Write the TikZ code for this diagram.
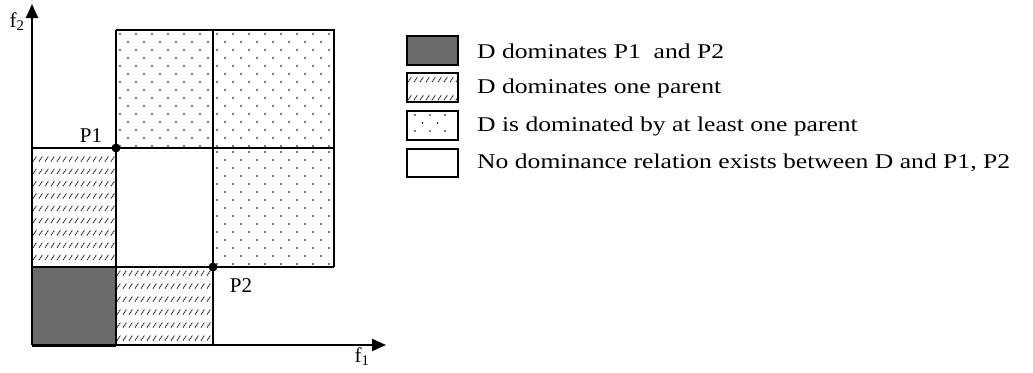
\documentclass[tikz,border=0pt]{standalone}
\usepackage{fontspec}
\setmainfont{Liberation Serif}
\newfontfamily\legendfont[FakeStretch=1.22]{Liberation Serif}
\usetikzlibrary{arrows.meta}

% dotted fill: staggered lattice of small dots, clipped to a rectangle
\newcommand\dotfield[4]{%
  \begin{scope}
    \clip (#1,#2) rectangle (#3,#4);
    \foreach \j in {0,...,16}{
      \foreach \i in {0,...,8}{
        \fill ({#1+4+16*\i+8*mod(\j,2)},{#2+4+8*\j}) circle (0.95);
      }
    }
  \end{scope}}

% hatched fill: rows of short slanted strokes
% args: x1,y1,x2,y2, first row offset, row spacing
\newcommand\hatchfield[6]{%
  \begin{scope}
    \clip (#1,#2) rectangle (#3,#4);
    \foreach \j in {0,...,10}{
      \foreach \i in {0,...,18}{
        \draw[hatchstroke] ({#1+1+6*\i},{#2+#5+2.5+#6*\j}) -- ++(3.5,-5);
      }
    }
  \end{scope}}

\tikzset{
  gridline/.style={line width=1.5pt},
  axisline/.style={line width=2pt,-{Triangle[length=14pt,width=12pt]}},
  hatchstroke/.style={line width=1.1pt,black!80,dash pattern=on 1.3pt off 0.7pt},
  darkfill/.style={fill=black!58},
  legendbox/.style={draw,line width=1.6pt},
  legendtext/.style={anchor=west,inner sep=0pt,font=\legendfont\fontsize{21}{25}\selectfont},
  plotlabel/.style={inner sep=0pt,font=\fontsize{21}{25}\selectfont},
  pointdot/.style={circle,fill,inner sep=0pt,minimum size=9pt},
}

\begin{document}
\begin{tikzpicture}[x=1pt,y=-1pt]
  \useasboundingbox (0,0) rectangle (1033,372);

  % grid positions
  \def\xa{32}\def\xb{116}\def\xc{213}\def\xd{334}
  \def\ya{30}\def\yb{148}\def\yc{267}\def\yd{345}

  % region fills
  \fill[darkfill] (\xa,\yc) rectangle (\xb,\yd);
  \hatchfield{\xa}{\yb}{\xb}{\yc}{11}{12.3}
  \hatchfield{\xb}{\yc}{\xc}{\yd}{6}{13}
  \dotfield{\xb}{\ya}{\xc}{\yb}
  \dotfield{\xc}{\ya}{\xd}{\yb}
  \dotfield{\xc}{\yb}{\xd}{\yc}

  % named corner points
  \coordinate (O) at (\xa,\yd);
  \coordinate (xend) at (386,\yd);
  \coordinate (yend) at (\xa,4);
  \coordinate (tl) at (\xb,\ya);
  \coordinate (tm) at (\xc,\ya);
  \coordinate (tr) at (\xd,\ya);
  \coordinate (ml) at (\xa,\yb);
  \coordinate (mr) at (\xd,\yb);
  \coordinate (ll) at (\xa,\yc);
  \coordinate (lr) at (\xd,\yc);
  \coordinate (bb) at (\xb,\yd);
  \coordinate (bc) at (\xc,\yd);

  % grid
  \draw[gridline] (tl) -- (tr) -- (lr);
  \draw[gridline] (ml) -- (mr);
  \draw[gridline] (ll) -- (lr);
  \draw[gridline] (tl) -- (bb);
  \draw[gridline] (tm) -- (bc);

  % axes
  \draw[axisline] (O) -- (xend);
  \draw[axisline] (O) -- (yend);
  \draw[line width=3pt] (O) -- (bb);
  \node[plotlabel] (f1) at (362,357) {f\textsubscript{1}};
  \node[plotlabel] (f2) at (17,22) {f\textsubscript{2}};

  % the two parents
  \node[pointdot] (P1) at (\xb,\yb) {};
  \node[pointdot] (P2) at (\xc,\yc) {};
  \node[plotlabel] (P1lab) at (91,136) {P1};
  \node[plotlabel] (P2lab) at (241,286) {P2};

  % legend
  \fill[darkfill] (407,36) rectangle (458,65);
  \draw[legendbox] (407,36) rectangle (458,65);
  \begin{scope}
    \clip (407,73) rectangle (458,102);
    \foreach \i in {0,...,8}{
      \draw[hatchstroke] ({408+6*\i},{82}) -- ++(3.5,-5);
      \draw[hatchstroke] ({408+6*\i},{100}) -- ++(3.5,-5);
    }
  \end{scope}
  \draw[legendbox] (407,73) rectangle (458,102);
  \foreach \i in {0,1,2}{
    \fill ({415+15*\i},115) circle (0.95);
    \fill ({415+15*\i},131) circle (0.95);
  }
  \foreach \i in {0,1}{
    \fill ({422.5+15*\i},123) circle (0.95);
  }
  \draw[legendbox] (407,111) rectangle (458,140);
  \draw[legendbox] (407,149) rectangle (458,177);

  \node[legendtext] (L1) at (477,51) {D dominates P1 \ and P2};
  \node[legendtext] (L2) at (477,88) {D dominates one parent};
  \node[legendtext] (L3) at (477,126) {D is dominated by at least one parent};
  \node[legendtext] (L4) at (477,163) {No dominance relation exists between D and P1, P2};
\end{tikzpicture}
\end{document}
